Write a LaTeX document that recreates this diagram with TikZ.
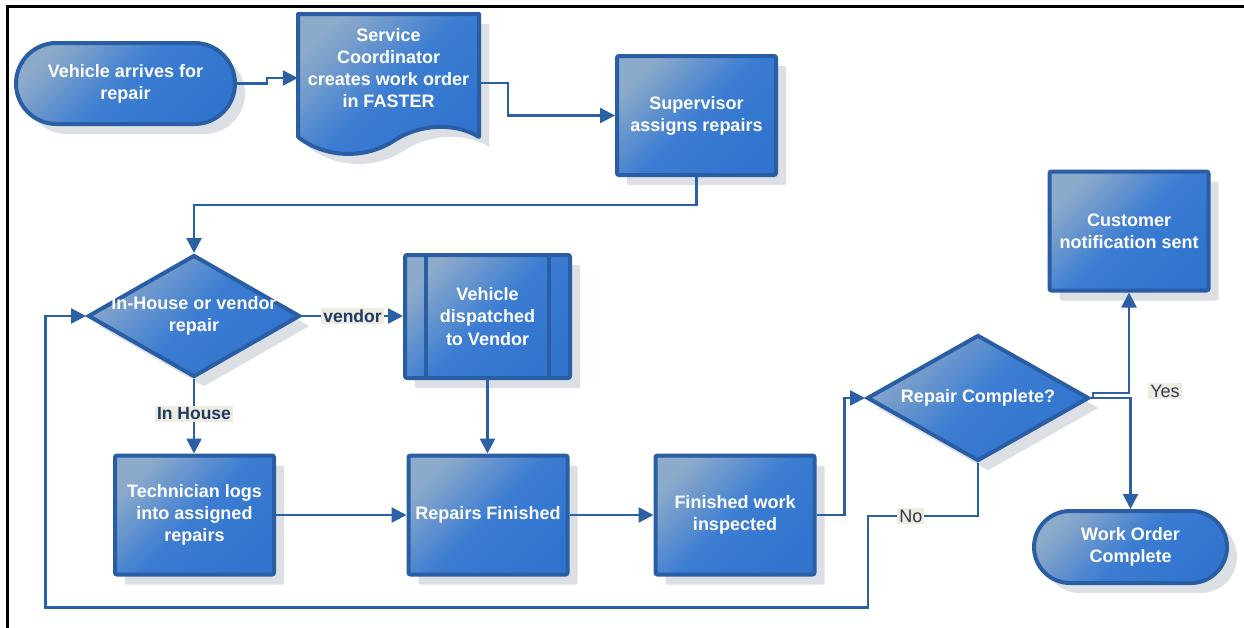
\documentclass[tikz,border=0pt]{standalone}
\usepackage{fontspec}
\setmainfont{Liberation Sans}
\usetikzlibrary{shapes.geometric,shapes.misc,arrows.meta,shadows,calc}
\definecolor{bdr}{HTML}{2A5EA4}
\definecolor{cL}{HTML}{8CAACA}
\definecolor{cM}{HTML}{3C7DD2}
\definecolor{cD}{HTML}{3074CE}
\definecolor{shd}{HTML}{DCDFE4}
\definecolor{conn}{HTML}{2B5FA6}
\definecolor{lblbg}{HTML}{EEEBE0}
\definecolor{lbltx}{HTML}{1F3A66}
\definecolor{yntx}{HTML}{2E3A4C}
\begin{document}
\begin{tikzpicture}[x=1pt,y=-1pt,
  ntext/.style={font=\bfseries\fontsize{18}{22.2}\selectfont, text=white, align=center, inner sep=0pt},
  shadowed/.style={drop shadow={shadow xshift=10pt, shadow yshift=-10pt, opacity=1, fill=shd}},
  shfill/.style={top color=cL, bottom color=cD, middle color=cM, shading angle=45},
  blk/.style={shadowed, shfill, draw=bdr, line width=4pt, ntext},
  proc/.style={blk, rectangle, rounded corners=2pt, minimum width=159pt, minimum height=119pt},
  term/.style={blk, rounded rectangle},
  dia/.style={blk, diamond, inner sep=0pt},
  conn/.style={draw=conn, line width=2.4pt, -{Triangle[length=15pt,width=15pt]}},
  plain/.style={draw=conn, line width=2.4pt},
  lbl/.style={fill=lblbg, text=lbltx, font=\bfseries\fontsize{17.5}{20}\selectfont, inner sep=2pt},
  yn/.style={fill=lblbg, text=yntx, font=\fontsize{18}{20}\selectfont, inner sep=2pt}
]
\useasboundingbox (0,0) rectangle (1244,627);
% frame
\draw[line width=2.5pt] (7.5,660) -- (7.5,6.5) -- (1270,6.5);

% start terminator
\node[term, minimum width=219pt, minimum height=81pt] (start) at (125.5,83.5) {Vehicle arrives for\\repair};

% document shape
\fill[shd] (308,24) -- (489,24) -- (489,147) .. controls (465,132) and (430,134) .. (405,150) .. controls (375,170) and (335,168) .. (308,147) -- cycle;
\draw[shfill, draw=bdr, line width=4pt, line join=round] (298,14) -- (479,14) -- (479,137) .. controls (455,122) and (420,124) .. (395,140) .. controls (365,160) and (325,158) .. (298,137) -- cycle;
\node[inner sep=0pt, minimum width=181pt, minimum height=123pt] (doc) at (388.5,75.5) {};
\node[ntext] (doctext) at (388.5,68) {Service\\Coordinator\\creates work order\\in FASTER};

% supervisor
\node[proc] (sup) at (696.5,115.5) {Supervisor\\assigns repairs};

% decision 1
\node[dia, minimum width=212pt, minimum height=122pt] (d1) at (194,316) {};
\node[ntext] (d1text) at (194,316) {In-House or vendor\\repair};

% vendor (predefined process)
\node[proc, minimum width=165pt, minimum height=123pt] (vend) at (487.5,316.5) {Vehicle\\dispatched\\to Vendor};
\draw[draw=bdr, line width=4pt] ([xshift=23pt]vend.north west) -- ([xshift=23pt]vend.south west);
\draw[draw=bdr, line width=4pt] ([xshift=-23pt]vend.north east) -- ([xshift=-23pt]vend.south east);

% bottom row
\node[proc] (tech) at (194.5,515) {Technician logs\\into assigned\\repairs};
\node[proc] (rep) at (488,515) {Repairs Finished};
\node[proc] (fin) at (735,515) {Finished work\\inspected};

% decision 2
\node[dia, minimum width=222pt, minimum height=126pt] (d2) at (978,398) {};
\node[ntext] (d2text) at (978,398) {Repair Complete?};

% right column
\node[proc] (cust) at (1129,231) {Customer\\notification sent};
\node[term, minimum width=193pt, minimum height=72pt] (wo) at (1130.5,547) {Work Order\\Complete};

% helper coordinates
\coordinate (y78) at (0,78);
\coordinate (y83) at (0,83);
\coordinate (y205) at (0,205);
\coordinate (y516) at (0,516);

% connectors
\draw[conn] (start.east) -- (267,83.5) -- (267,78) -- (doc.west |- y78);
\draw[conn] (doc.east |- y83) -- (508,83) |- (sup.west);
\draw[conn] (sup.south) -- (sup.south |- y205) -| (d1.north);
\draw[conn] (d1.east) -- node[lbl] (vendorlbl) {vendor} (d1.east -| vend.west);
\draw[conn] (d1.south) -- node[lbl, pos=0.47] (inhouselbl) {In House} (d1.south |- tech.north);
\draw[conn] (vend.south) -- (vend.south |- rep.north);
\draw[conn] (tech.east) -- (rep.west);
\draw[conn] (rep.east) -- (fin.west);
\draw[conn] (fin.east) -- ++(28,0) |- (d2.west);
\draw[conn] (d2.east) -| (wo.north);
\draw[conn] (d2.east) -- ++(2,0) -- ++(0,-5) -| (cust.south);
\draw[conn] (d2.south) -- (d2.south |- y516) -- node[yn, pos=0.61] (nolbl) {No} (868,516) -- (868,607.5) -- (45.5,607.5) |- (d1.west);
\node[yn] (yeslbl) at (1165,391) {Yes};
\end{tikzpicture}
\end{document}
